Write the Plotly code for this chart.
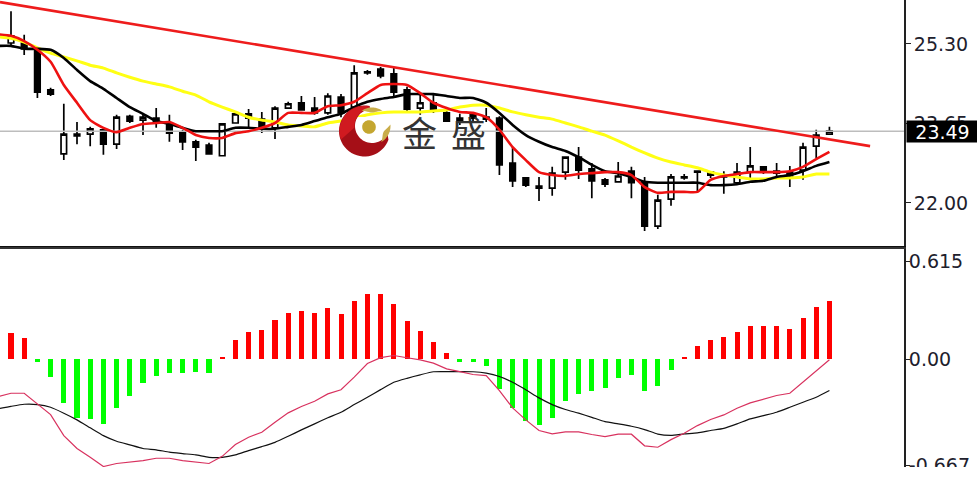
import numpy as np
import plotly.graph_objects as go
from plotly.subplots import make_subplots

# ---- price panel data (candles are sessions 0..62) ----
opens = [25.32,25.32,25.18,24.35,23.02,23.43,23.43,23.52,23.22,23.80,23.72,23.76,23.64,23.47,23.27,23.20,22.98,23.66,23.85,23.74,23.56,23.97,24.08,23.97,23.87,24.20,23.99,24.72,24.78,24.68,24.35,23.97,24.08,23.87,23.76,23.83,23.78,23.76,22.83,22.52,22.35,22.31,22.64,22.95,22.71,22.48,22.44,22.66,22.44,21.52,22.08,22.54,22.66,22.64,22.56,22.42,22.64,22.75,22.66,22.64,22.68,23.18,23.43]
highs = [25.98,25.49,25.18,24.39,24.06,23.68,23.58,23.54,23.83,23.83,23.87,23.97,23.83,23.52,23.31,23.25,23.66,23.89,23.95,23.89,24.01,24.10,24.22,24.20,24.28,24.26,24.86,24.76,24.82,24.82,24.41,24.30,24.28,23.93,23.85,23.89,23.97,23.80,23.16,22.54,22.54,22.75,22.95,23.16,22.83,22.52,22.85,22.75,22.54,22.17,22.60,22.60,22.66,22.66,22.66,22.83,23.16,22.77,22.83,22.77,23.25,23.52,23.58]
lows = [25.28,25.07,24.18,24.22,22.89,23.22,23.18,23.00,23.12,23.66,23.41,23.56,23.27,23.10,22.87,23.02,22.98,23.66,23.56,23.45,23.33,23.95,23.93,23.83,23.83,23.78,23.97,24.66,24.59,24.18,23.89,23.83,23.87,23.70,23.62,23.68,23.68,22.58,22.33,22.33,22.04,22.15,22.48,22.50,22.10,22.33,22.42,22.10,21.42,21.46,21.94,22.48,22.23,22.52,22.19,22.42,22.48,22.60,22.52,22.33,22.48,22.93,23.43]
closes = [25.47,25.20,24.30,24.26,23.43,23.39,23.54,23.22,23.78,23.70,23.78,23.68,23.45,23.27,23.16,23.02,23.64,23.85,23.76,23.56,23.97,24.06,23.93,23.87,24.22,23.87,24.70,24.70,24.64,24.30,23.95,24.08,23.95,23.70,23.72,23.76,23.74,22.79,22.46,22.37,22.31,22.62,22.95,22.68,22.46,22.39,22.56,22.42,21.52,22.06,22.54,22.52,22.64,22.58,22.54,22.64,22.77,22.64,22.62,22.56,23.16,23.41,23.49]

# moving averages start one session before the first whole candle (index -1)
ma_fast = [25.50,25.47,25.36,25.18,24.93,24.45,24.08,23.72,23.56,23.47,23.56,23.64,23.66,23.68,23.56,23.41,23.35,23.35,23.45,23.49,23.56,23.66,23.87,23.87,23.87,24.01,24.03,24.10,24.28,24.45,24.47,24.45,24.28,24.08,23.97,23.89,23.87,23.78,23.52,23.16,22.89,22.64,22.58,22.56,22.60,22.62,22.64,22.64,22.58,22.33,22.21,22.23,22.23,22.23,22.48,22.56,22.60,22.64,22.64,22.64,22.66,22.75,22.91,23.06]
ma_mid = [25.26,25.26,25.20,25.20,25.18,25.01,24.76,24.53,24.37,24.18,23.99,23.85,23.70,23.64,23.56,23.49,23.49,23.49,23.56,23.56,23.54,23.54,23.58,23.62,23.70,23.78,23.85,23.99,24.10,24.16,24.20,24.26,24.26,24.26,24.22,24.18,24.18,24.08,23.87,23.62,23.41,23.27,23.16,23.08,22.95,22.79,22.66,22.62,22.54,22.44,22.42,22.42,22.42,22.42,22.37,22.37,22.39,22.44,22.46,22.54,22.58,22.66,22.77,22.85]
ma_slow = [25.45,25.42,25.34,25.22,25.11,25.03,24.95,24.86,24.80,24.70,24.61,24.53,24.47,24.41,24.32,24.24,24.10,23.99,23.89,23.78,23.72,23.68,23.62,23.60,23.58,23.66,23.70,23.76,23.83,23.87,23.89,23.89,23.89,23.91,23.93,23.99,24.03,24.03,23.97,23.89,23.83,23.78,23.74,23.66,23.58,23.49,23.41,23.29,23.16,23.04,22.93,22.85,22.79,22.73,22.64,22.58,22.54,22.50,22.50,22.52,22.52,22.54,22.60,22.60]

trend_sessions = [-0.833, 65.08]
trend_prices = [26.17, 23.18]
last_price = 23.49

# ---- MACD panel data (index -1..62) ----
macd_hist = [.16,.163,.132,-.02,-.115,-.278,-.371,-.379,-.408,-.31,-.234,-.151,-.105,-.09,-.09,-.084,-.09,.015,.119,.172,.18,.247,.291,.299,.291,.32,.285,.366,.406,.406,.343,.241,.178,.105,.036,-.017,-.02,-.046,-.188,-.31,-.387,-.415,-.369,-.262,-.218,-.203,-.182,-.121,-.099,-.203,-.172,-.067,.015,.082,.119,.14,.172,.209,.209,.209,.188,.255,.329,.366]
macd_fast = [-.236,-.215,-.215,-.28,-.349,-.481,-.562,-.617,-.675,-.656,-.648,-.638,-.623,-.623,-.638,-.648,-.656,-.611,-.537,-.491,-.46,-.397,-.338,-.298,-.265,-.219,-.193,-.114,-.028,.009,.022,.008,-.005,-.026,-.062,-.079,-.097,-.104,-.198,-.307,-.382,-.449,-.47,-.457,-.457,-.474,-.487,-.472,-.472,-.545,-.554,-.506,-.466,-.418,-.38,-.351,-.309,-.275,-.25,-.229,-.215,-.146,-.072,-.005]
macd_slow = [-.313,-.297,-.284,-.286,-.303,-.34,-.382,-.432,-.481,-.516,-.539,-.562,-.57,-.585,-.594,-.602,-.617,-.617,-.602,-.575,-.55,-.523,-.485,-.445,-.407,-.369,-.334,-.286,-.24,-.192,-.146,-.121,-.099,-.08,-.079,-.079,-.08,-.089,-.11,-.146,-.193,-.244,-.286,-.317,-.34,-.366,-.393,-.407,-.422,-.443,-.471,-.479,-.47,-.464,-.449,-.435,-.407,-.376,-.355,-.334,-.303,-.271,-.24,-.198]

price_ticks = [25.30, 23.65, 22.00]
macd_ticks = [0.615, 0.00, -0.667]
macd_tick_text = ["0.615", "0.00", "-0.667"]

sessions = list(range(len(opens)))
line_sessions = list(range(-1, len(opens)))
for series in (ma_fast, ma_mid, ma_slow, macd_hist, macd_fast, macd_slow):
    assert len(series) == len(line_sessions), len(series)

W, H = 977, 477
PW = 904  # plot right edge
LABEL = "#20202c"

fig = make_subplots(rows=2, cols=1, shared_xaxes=False)

fig.add_trace(go.Candlestick(
    x=sessions, open=opens, high=highs, low=lows, close=closes,
    increasing=dict(line=dict(color="#000000", width=1.7), fillcolor="#ffffff"),
    decreasing=dict(line=dict(color="#000000", width=1.7), fillcolor="#000000"),
    whiskerwidth=0, hoverinfo="skip"), row=1, col=1)

smooth = dict(shape="spline", smoothing=0.5)
fig.add_trace(go.Scatter(x=[-0.833, 67.65], y=[last_price, last_price], mode="lines",
                         line=dict(color="#bdbdbd", width=1.5)), row=1, col=1)
fig.add_trace(go.Scatter(x=line_sessions, y=ma_slow, mode="lines",
                         line=dict(color="#ffff14", width=3, **smooth)), row=1, col=1)
fig.add_trace(go.Scatter(x=line_sessions, y=ma_mid, mode="lines",
                         line=dict(color="#000000", width=2.6, **smooth)), row=1, col=1)
fig.add_trace(go.Scatter(x=line_sessions, y=ma_fast, mode="lines",
                         line=dict(color="#ee1111", width=2.6, **smooth)), row=1, col=1)
fig.add_trace(go.Scatter(x=trend_sessions, y=trend_prices, mode="lines",
                         line=dict(color="#ee1c1c", width=2.6)), row=1, col=1)

fig.add_trace(go.Bar(x=line_sessions, y=macd_hist, width=0.38,
                     marker=dict(color=["#ff0000" if v > 0 else "#00ff00" for v in macd_hist],
                                 line=dict(width=0))), row=2, col=1)
fig.add_trace(go.Scatter(x=line_sessions, y=macd_slow, mode="lines",
                         line=dict(color="#111111", width=1.2, **smooth)), row=2, col=1)
fig.add_trace(go.Scatter(x=line_sessions, y=macd_fast, mode="lines",
                         line=dict(color="#d8325f", width=1.2)), row=2, col=1)

xrange = [-0.833, 67.65]
axis_font = dict(family="DejaVu Sans", size=19, color=LABEL)
fig.update_xaxes(range=xrange, showticklabels=False, showgrid=False, zeroline=False, ticks="",
                 rangeslider_visible=False)
fig.update_layout(
    xaxis=dict(domain=[0, 1], showline=True, linecolor="#111111", linewidth=2),
    xaxis2=dict(domain=[0, 1], showline=True, linecolor="#333333", linewidth=1.5, side="top"),
    yaxis=dict(domain=[1 - 246 / H, 1], range=[21.107, 26.213], side="right",
               tickvals=price_ticks, ticktext=[f"{v:.2f}" for v in price_ticks],
               showgrid=False, zeroline=False, showline=True, linecolor="#222222", linewidth=2,
               ticks="outside", ticklen=5, tickcolor="#222222", tickfont=axis_font, ticklabelstandoff=-1),
    yaxis2=dict(domain=[10 / H, 1 - 249 / H], range=[-0.678, 0.691], side="right",
                tickvals=macd_ticks, ticktext=macd_tick_text,
                showgrid=False, zeroline=False, showline=True, linecolor="#222222", linewidth=2,
                ticks="outside", ticklen=4, tickcolor="#222222", tickfont=axis_font, ticklabelstandoff=-5),
    width=W, height=H, margin=dict(l=0, r=W - PW, t=0, b=0, autoexpand=False),
    plot_bgcolor="#ffffff", paper_bgcolor="#ffffff", showlegend=False, bargap=0,
    boxgap=0.58, boxgroupgap=0,
)


def px_path(points):
    body = " L ".join(f"{x / PW:.5f},{1 - y / H:.5f}" for x, y in points)
    return "M " + body + " Z"


def arc(cx, cy, r, a0, a1, n=40):
    t = np.radians(np.linspace(a0, a1, n))
    return list(zip(cx + r * np.cos(t), cy + r * np.sin(t)))


def paper_shape(path, color):
    return dict(type="path", xref="paper", yref="paper", path=path, fillcolor=color,
                line=dict(width=0), layer="above")


shapes = []
# watermark: white patch under it (yellow line stays visible above), crescent, ball and gold highlights
shapes.append(paper_shape(px_path(arc(372, 126, 17, -32, 212)), "#ffffff"))
shapes.append(paper_shape(px_path(arc(364.5, 131, 25.5, -78, -340) + arc(372, 126, 17, 25, 262)), "#a50f17"))
shapes.append(paper_shape(px_path(arc(364.5, 131, 25.0, -80, -200) + arc(372, 126, 17.5, 175, 262)), "#d01a20"))
shapes.append(paper_shape(px_path(arc(369, 127, 6.8, 0, 360)), "#c4a630"))
t = np.linspace(0, 1, 30)
top_outer = arc(372, 126, 18.5, -125, -55, 30)
top_inner = [(372 + (18.5 - 5 * np.sin(np.pi * s)) * np.cos(np.radians(-55 - 70 * s)),
              126 + (18.5 - 5 * np.sin(np.pi * s)) * np.sin(np.radians(-55 - 70 * s))) for s in t]
shapes.append(paper_shape(px_path(top_outer + top_inner), "#c9ad4a"))
right_outer = arc(372, 126, 18.5, -5, 60, 30)
right_inner = [(372 + (18.5 - 5.5 * np.sin(np.pi * s)) * np.cos(np.radians(60 - 65 * s)),
                126 + (18.5 - 5.5 * np.sin(np.pi * s)) * np.sin(np.radians(60 - 65 * s))) for s in t]
shapes.append(paper_shape(px_path(right_outer + right_inner), "#c9ad4a"))
# right-hand label clip under the lower panel
shapes.append(dict(type="rect", xref="paper", yref="paper", x0=906 / PW, x1=W / PW, y0=-0.001, y1=10 / H,
                   fillcolor="#ffffff", line=dict(width=0), layer="above"))
fig.update_layout(shapes=shapes)

annotations = [
    dict(text="金", xref="paper", yref="paper", x=419.5 / PW, y=1 - 131.5 / H, xanchor="center", yanchor="middle",
         showarrow=False, font=dict(family="Noto Sans CJK SC", size=35, color="#333333")),
    dict(text="盛", xref="paper", yref="paper", x=469 / PW, y=1 - 131.5 / H, xanchor="center", yanchor="middle",
         showarrow=False, font=dict(family="Noto Sans CJK SC", size=35, color="#333333")),
    dict(text=f"{last_price:.2f}", xref="paper", yref="y", x=906 / PW, y=last_price, xanchor="left",
         yanchor="middle", showarrow=False, width=71, height=21, bgcolor="#000000", borderpad=0,
         font=dict(family="DejaVu Sans", size=19, color="#ffffff")),
]
fig.update_layout(annotations=annotations)

fig.write_html("out.html", config=dict(displayModeBar=False),
               post_script="document.body.style.margin='0';document.documentElement.style.overflow='hidden';")
